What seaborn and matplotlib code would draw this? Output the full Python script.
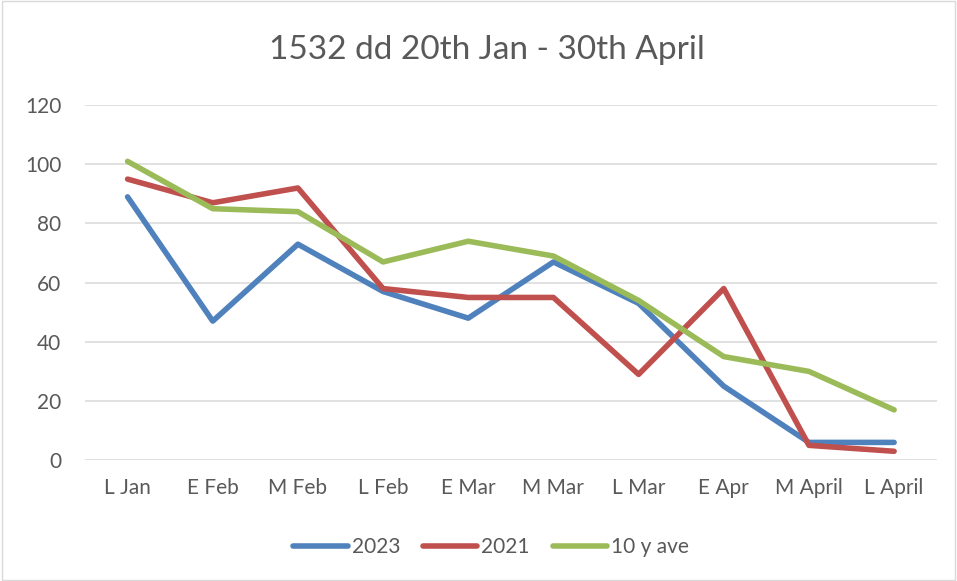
import pandas as pd
import seaborn as sns
import matplotlib.pyplot as plt

# periods on the x axis
periods = ['L Jan', 'E Feb', 'M Feb', 'L Feb', 'E Mar', 'M Mar', 'L Mar', 'E Apr', 'M April', 'L April']

# values
y2023 = [89, 47, 73, 57, 48, 67, 53, 25, 6, 6]
y2021 = [95, 87, 92, 58, 55, 55, 29, 58, 5, 3]
ave10 = [101, 85, 84, 67, 74, 69, 54, 35, 30, 17]

series_names = ['2023', '2021', '10 y ave']
colors = ['#4F81BD', '#C0504D', '#9BBB59']

# long format for seaborn
df = pd.DataFrame({'period': periods * 3,
                   'value': y2023 + y2021 + ave10,
                   'series': [s for s in series_names for _ in periods]})

sns.set_style('white')
plt.rcParams['font.family'] = ['Lato', 'DejaVu Sans']

fig = plt.figure(figsize=(9.57, 5.81), dpi=100)
ax = fig.add_axes([0.0888, 0.208, 0.890, 0.611])

sns.lineplot(data=df, x='period', y='value', hue='series', hue_order=series_names,
             palette=colors, linewidth=4, sort=False, ax=ax)

ax.set_xlim(-0.5, len(periods) - 0.5)
ax.set_ylim(0, 120)
ax.set_yticks(range(0, 121, 20))
ax.grid(axis='y', color='#D9D9D9', linewidth=1.1)
ax.set_axisbelow(True)
for s in ax.spines.values():
    s.set_visible(False)
ax.tick_params(axis='both', length=0, labelsize=15, labelcolor='#595959')
ax.tick_params(axis='x', pad=13)
ax.tick_params(axis='y', pad=17)
ax.set_xlabel('')
ax.set_ylabel('')

# title and legend are centred on the whole chart, not on the plot area
ax.set_title('1532 dd 20th Jan - 30th April', fontsize=24, color='#595959', pad=33, x=0.472)

ax.legend(loc='upper center', bbox_to_anchor=(0.477, -0.165), ncol=3, frameon=False,
          fontsize=15, handlelength=2.6, handletextpad=0.2, columnspacing=1.1,
          labelcolor='#595959')

# light border round the figure
fig.patches.append(plt.Rectangle((0.002, 0.002), 0.996, 0.996, transform=fig.transFigure,
                                 fill=False, edgecolor='#D9D9D9', linewidth=1))

fig.savefig('out.png', dpi=100)
